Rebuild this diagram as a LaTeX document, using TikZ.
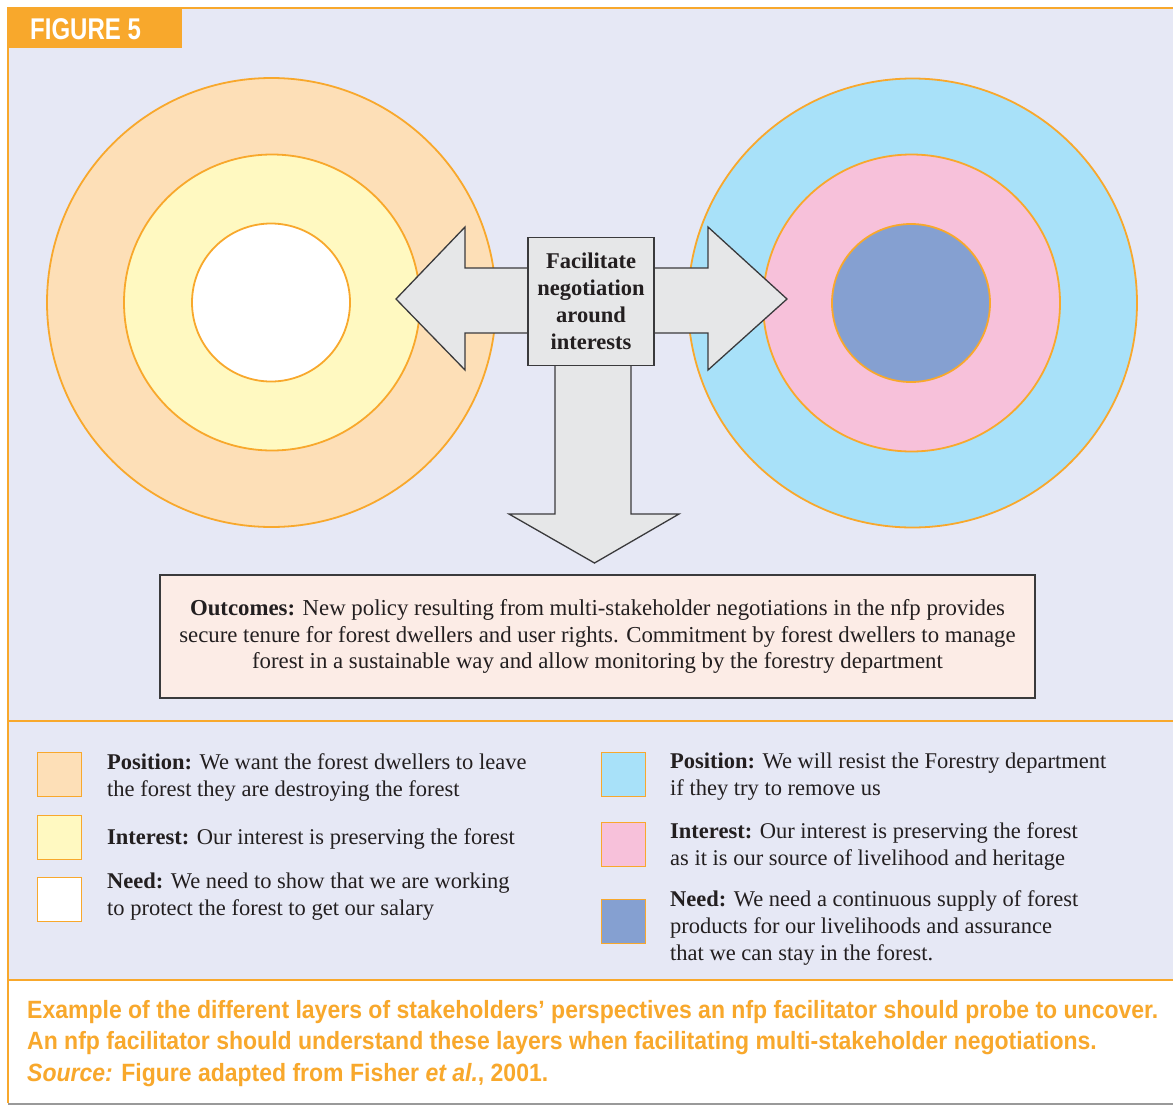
\documentclass[tikz,border=0pt]{standalone}
\usepackage{fontspec}
\setmainfont{Liberation Serif}
\newfontfamily\capfont[FakeStretch=0.92]{Liberation Sans}
\newfontfamily\tabfont[FakeStretch=0.8]{Liberation Sans}
\definecolor{frameorange}{HTML}{F8A82C}
\definecolor{lavender}{HTML}{E6E8F5}
\definecolor{peach}{HTML}{FDDFB7}
\definecolor{paleyellow}{HTML}{FFF9C1}
\definecolor{skyblue}{HTML}{A8E1F9}
\definecolor{rosepink}{HTML}{F7C1DA}
\definecolor{slateblue}{HTML}{85A0D1}
\definecolor{arrowgray}{HTML}{E6E7E8}
\definecolor{outline}{HTML}{3A3A3C}
\definecolor{blush}{HTML}{FCECE6}
\definecolor{textdark}{HTML}{231F20}
\begin{document}
\begin{tikzpicture}[x=1pt,y=-1pt,
  ring/.style={circle,draw=frameorange,line width=1.8pt,inner sep=0pt},
  bigarrow/.style={draw=outline,fill=arrowgray,line width=1.3pt,line join=miter},
  swatch/.style={draw=frameorange,line width=1.2pt,minimum width=44pt,minimum height=44pt,inner sep=0pt},
  legendtext/.style={anchor=north west,align=left,inner sep=0pt,text=textdark,
    font=\fontsize{22.5}{27}\selectfont},
  rule/.style={draw=frameorange,line width=2.2pt}]
\useasboundingbox (0,0) rectangle (1173,1106);
\fill[white] (0,0) rectangle (1173,1106);
\fill[lavender] (8,8) rectangle (1173,980);

% frame rules
\draw[rule] (8,8) -- (1173,8);
\draw[rule] (8,721) -- (1173,721);
\draw[rule] (8,980) -- (1173,980);
\draw[rule] (8,7) -- (8,1103);
\draw[draw=gray!80,line width=2.5pt] (8,1104) -- (1173,1104);

% figure tab
\fill[frameorange] (8,7) rectangle (182,48);
\node[anchor=west,inner sep=0pt,text=white,font=\tabfont\bfseries\fontsize{30}{30}\selectfont]
  (tab) at (30,29) {FIGURE 5};

% left stakeholder rings
\node[ring,fill=peach,minimum size=449pt] (lpos) at (271.5,302.5) {};
\node[ring,fill=paleyellow,minimum size=296pt] (lint) at (272,302.5) {};
\node[ring,fill=white,minimum size=158pt] (lneed) at (271,302.5) {};

% right stakeholder rings
\node[ring,fill=skyblue,minimum size=449pt] (rpos) at (912.5,303) {};
\node[ring,fill=rosepink,minimum size=297pt] (rint) at (911.5,303) {};
\node[ring,fill=slateblue,minimum size=158pt] (rneed) at (911,303) {};

% arrows out of the central box
\draw[bigarrow] (528,268) -- (465,268) -- (465,227) -- (396,299) -- (465,370) -- (465,333) -- (528,333);
\draw[bigarrow] (654,268) -- (708,268) -- (708,227) -- (787,299) -- (708,370) -- (708,333) -- (654,333);
\draw[bigarrow] (555,366) -- (555,514) -- (509,514) -- (594.5,563) -- (679,514) -- (631,514) -- (631,366);

\node[draw=outline,fill=arrowgray,line width=1.3pt,minimum width=126pt,minimum height=128pt,
  inner sep=0pt,align=center,text=textdark,font=\bfseries\fontsize{22.5}{27}\selectfont]
  (facil) at (591,301.5) {Facilitate\\negotiation\\around\\interests};

% outcomes
\node[draw=outline,fill=blush,line width=1.3pt,minimum width=875pt,minimum height=123pt,
  inner sep=0pt,align=center,text=textdark,font=\fontsize{22.8}{26.5}\selectfont]
  (outcome) at (597.5,636.5)
  {\textbf{Outcomes:} New policy resulting from multi-stakeholder negotiations in the nfp provides\\
   secure tenure for forest dwellers and user rights. Commitment by forest dwellers to manage\\
   forest in a sustainable way and allow monitoring by the forestry department};

% legend, left stakeholder
\node[swatch,fill=peach,anchor=north west] (k1) at (37,752) {};
\node[swatch,fill=paleyellow,anchor=north west] (k2) at (37,815) {};
\node[swatch,fill=white,anchor=north west] (k3) at (37,877) {};
\node[legendtext] (t1) at (107,753) {\textbf{Position:} We want the forest dwellers to leave\\the forest they are destroying the forest};
\node[legendtext] (t2) at (107,828) {\textbf{Interest:} Our interest is preserving the forest};
\node[legendtext] (t3) at (107,873) {\textbf{Need:} We need to show that we are working\\to protect the forest to get our salary};

% legend, right stakeholder
\node[swatch,fill=skyblue,anchor=north west] (k4) at (601,752) {};
\node[swatch,fill=rosepink,anchor=north west] (k5) at (601,822) {};
\node[swatch,fill=slateblue,anchor=north west] (k6) at (601,899) {};
\node[legendtext] (t4) at (670,753) {\textbf{Position:} We will resist the Forestry department\\if they try to remove us};
\node[legendtext] (t5) at (670,822) {\textbf{Interest:} Our interest is preserving the forest\\as it is our source of livelihood and heritage};
\node[legendtext] (t6) at (670,890) {\textbf{Need:} We need a continuous supply of forest\\products for our livelihoods and assurance\\that we can stay in the forest.};

% caption
\node[anchor=north west,align=left,inner sep=0pt,text=frameorange,
  font=\capfont\bfseries\fontsize{25}{31.5}\selectfont] (caption) at (27,1000)
  {Example of the different layers of stakeholders’ perspectives an nfp facilitator should probe to uncover.\\
   An nfp facilitator should understand these layers when facilitating multi-stakeholder negotiations.\\
   \textit{Source:} Figure adapted from Fisher \textit{et al.}, 2001.};
\end{tikzpicture}
\end{document}
